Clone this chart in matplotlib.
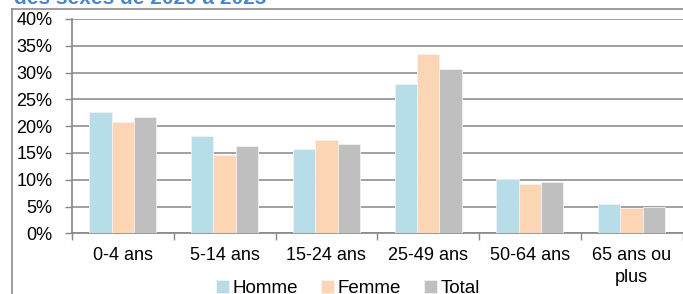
import numpy as np
import matplotlib.pyplot as plt

plt.rcParams["font.family"] = ["Liberation Sans", "DejaVu Sans"]

categories = ["0-4 ans", "5-14 ans", "15-24 ans", "25-49 ans", "50-64 ans", "65 ans ou\nplus"]
homme = [22.7, 18.1, 15.8, 27.8, 10.1, 5.4]
femme = [20.8, 14.6, 17.4, 33.5, 9.2, 4.8]
total = [21.7, 16.3, 16.6, 30.7, 9.6, 5.0]

series = [("Homme", homme, "#b7dde8"), ("Femme", femme, "#fcd5b5"), ("Total", total, "#bfbfbf")]

fig = plt.figure(figsize=(6.83, 2.94), dpi=100)
W, H = 683, 294
ax = fig.add_axes([72 / W, 1 - 233.3 / H, (682.5 - 72) / W, (233.3 - 19) / H])

x = np.arange(len(categories))
bw = 0.22
for k, (name, vals, col) in enumerate(series):
    ax.bar(x + (k - 1) * bw, vals, bw, color=col, label=name,
           edgecolor="#f2f2f2", linewidth=0.6, zorder=3)

ax.set_xlim(-0.5, len(categories) - 0.5)
ax.set_ylim(0, 40)
ax.set_yticks(range(0, 41, 5))
ax.set_yticklabels(["%d%%" % v for v in range(0, 41, 5)])
ax.yaxis.grid(True, color="#a0a0a0", linewidth=1.4, zorder=0)

ax.set_xticks(x)
ax.set_xticklabels(categories, linespacing=1.35)
ax.set_xticks(np.arange(-0.5, len(categories)), minor=True)
ax.tick_params(axis="x", which="major", length=0, pad=10, labelsize=13)
ax.tick_params(axis="x", which="minor", length=5, color="#888888", width=1)
ax.tick_params(axis="y", length=5, color="#888888", width=1, pad=9, labelsize=13)

for s in ["top", "right"]:
    ax.spines[s].set_visible(False)
ax.spines["left"].set_color("#888888")
ax.spines["bottom"].set_color("#888888")
ax.spines["left"].set_linewidth(1.2)
ax.spines["bottom"].set_linewidth(1.2)

ax.legend(loc="upper center", bbox_to_anchor=(348 / W, 1 - 272 / H), bbox_transform=fig.transFigure,
          ncol=3, frameon=False, fontsize=13.5, handlelength=0.7, handleheight=0.7,
          handletextpad=0.2, columnspacing=1.2, borderaxespad=0)

# outer frame of the chart area (partly cropped)
fig.add_artist(plt.Line2D([12 / W, 12 / W], [0, 1 - 9 / H], color="#8c8c8c", linewidth=1.2))
fig.add_artist(plt.Line2D([12 / W, 1], [1 - 9 / H, 1 - 9 / H], color="#8c8c8c", linewidth=1.2))

# title, cut off at the top
fig.text(14 / W, 1 - 4 / H, "des sexes de 2020 à 2025", color="#4a86c8", fontsize=15,
         fontweight="bold", va="baseline", ha="left")

fig.savefig("out.png", dpi=100)
